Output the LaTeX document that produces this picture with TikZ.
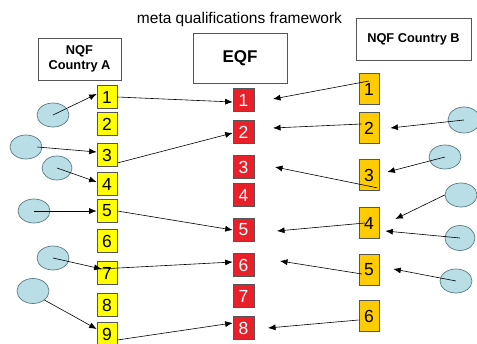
\documentclass[tikz,border=0pt]{standalone}
\usepackage{fontspec}
\setmainfont{Liberation Sans}
\usetikzlibrary{shapes.geometric,arrows.meta,calc}
\definecolor{ayel}{HTML}{FFFF00}
\definecolor{ered}{HTML}{E8202A}
\definecolor{bgold}{HTML}{FFCC00}
\definecolor{ellfill}{HTML}{B9DEE6}
\definecolor{elldraw}{HTML}{5A7A82}
\definecolor{boxline}{HTML}{555555}
\begin{document}
\begin{tikzpicture}[x=1pt,y=-1pt,
  hdr/.style={draw=boxline,line width=0.8pt,fill=white,align=center,inner sep=0pt,font=\bfseries\fontsize{12.8}{15}\selectfont},
  abox/.style={draw=boxline,line width=0.7pt,fill=ayel,minimum width=20pt,minimum height=23pt,inner sep=0pt,font=\fontsize{17.5}{17.5}\selectfont},
  ebox/.style={draw=boxline,line width=0.7pt,fill=ered,minimum width=21pt,minimum height=23pt,inner sep=0pt,text=white,font=\fontsize{17.5}{17.5}\selectfont},
  bbox/.style={draw=boxline,line width=0.7pt,fill=bgold,minimum width=20pt,minimum height=31pt,inner sep=0pt,font=\fontsize{17.5}{17.5}\selectfont},
  bubble/.style={ellipse,draw=elldraw,line width=0.7pt,fill=ellfill,minimum width=32pt,minimum height=24pt,inner sep=0pt},
  conn/.style={line width=0.6pt,-{Latex[length=7.5pt,width=6pt]}}
]
\useasboundingbox (0,0) rectangle (477,344);

% title
\node (title) at (239.5,19) {\fontsize{15.5}{16}\selectfont meta qualifications framework};

% header boxes
\node[hdr,minimum width=83pt,minimum height=42pt] (ha) at (79.5,59) {NQF\\Country A};
\node[hdr,minimum width=94pt,minimum height=50pt,font=\bfseries\fontsize{17}{17}\selectfont] (he) at (240,58) {EQF};
\node[hdr,minimum width=115pt,minimum height=42pt] (hb) at (413.5,39) {NQF Country B};

% Country A boxes
\foreach \n/\y in {1/97,2/124,3/155,4/184,5/211,6/241,7/273,8/305,9/334}
  \node[abox] (a\n) at (107,\y) {\n};
% EQF boxes
\foreach \n/\y in {1/100,2/132,3/167,4/195,5/230,6/265,7/296,8/328}
  \node[ebox] (r\n) at (243.5,\y) {\n};
% Country B boxes
\foreach \n/\y in {1/89,2/128,3/175,4/223,5/270,6/316}
  \node[bbox] (b\n) at (369,\y) {\n};

% bubbles left
\node[bubble] (e1) at (53,115) {};
\node[bubble] (e2) at (26,147) {};
\node[bubble,minimum width=30pt] (e3) at (57,168) {};
\node[bubble] (e4) at (34,211) {};
\node[bubble] (e5) at (53,258) {};
\node[bubble,minimum height=25pt] (e6) at (33,291) {};
% bubbles right
\node[bubble,minimum height=26pt] (f1) at (464,120) {};
\node[bubble] (f2) at (445,157) {};
\node[bubble] (f3) at (461,195) {};
\node[bubble,minimum width=30pt,minimum height=25pt] (f4) at (460,238) {};
\node[bubble] (f5) at (456,281) {};

% free ends in the gap right of EQF
\coordinate (t1) at (273,99);
\coordinate (t2) at (273,128);
\coordinate (t3) at (275,167);
\coordinate (t4) at (277,231);
\coordinate (t5) at (280,261);
\coordinate (t6) at (268,328);

% left connectors
\draw[conn] (e1.center) -- ([yshift=3pt]a1.west);
\draw[conn] (a1.east) -- ([yshift=-2pt]r1.west);
\draw[conn] ([xshift=-5pt]e2.east) -- ([yshift=3pt]a3.west);
\draw[conn] ([yshift=-8pt]a3.east) -- ([yshift=-1pt]r2.west);
\draw[conn] (e3.center) -- ([yshift=2pt]a4.west);
\draw[conn] (e4.center) -- (a5.west);
\draw[conn] (a5.east) -- (r5.west);
\draw[conn] (e5.center) -- ([yshift=4pt,xshift=5pt]a7.west);
\draw[conn] ([yshift=4pt,xshift=3pt]a7.west) -- ([yshift=3pt]r6.west);
\draw[conn] (e6.south east) -- ([yshift=5pt]a9.west);
\draw[conn] ([yshift=-6pt]a9.east) -- ([yshift=5pt]r8.west);

% right connectors
\draw[conn] ([yshift=8pt]b1.center) -- (t1);
\draw[conn] ([xshift=3pt,yshift=4pt]b2.west) -- (t2);
\draw[conn] (f1.center) -- ([xshift=11pt]b2.east);
\draw[conn] (f2.center) -- ([xshift=8pt,yshift=3pt]b3.east);
\draw[conn] ([xshift=-2pt,yshift=3pt]b3.south east) -- (t3);
\draw[conn] (f3.west) -- ([xshift=16pt,yshift=4pt]b4.east);
\draw[conn] (f4.center) -- ([xshift=6pt,yshift=-8pt]b4.east);
\draw[conn] ([xshift=-4pt]b4.center) -- (t4);
\draw[conn] ([xshift=-7pt,yshift=-4pt]b5.center) -- (t5);
\draw[conn] (f5.center) -- ([xshift=14pt,yshift=1pt]b5.east);
\draw[conn] ([yshift=-4pt]b6.west) -- (t6);
\end{tikzpicture}
\end{document}
